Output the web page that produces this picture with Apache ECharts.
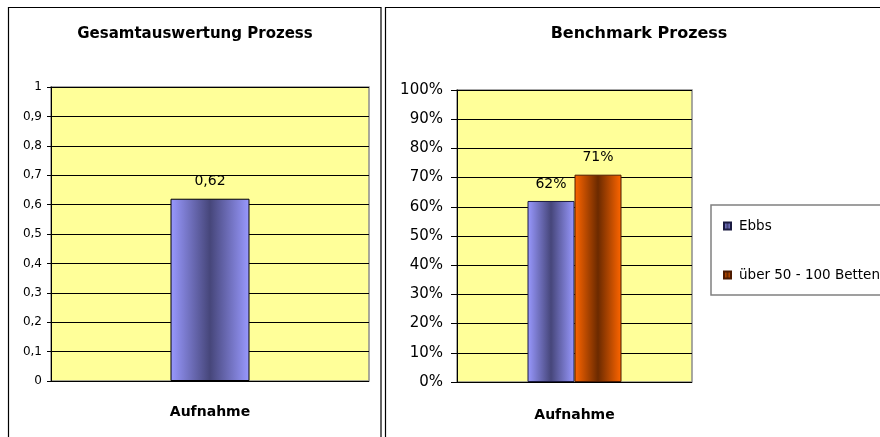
<!DOCTYPE html>
<html>
<head>
<meta charset="utf-8">
<script src="https://cdn.jsdelivr.net/npm/echarts@6/dist/echarts.min.js"></script>
<style>
  html, body { margin: 0; padding: 0; background: #fff; }
  #main { width: 880px; height: 437px; }
</style>
</head>
<body>
<div id="main"></div>
<script>
// Daten aus der Vorlage
const kategorien = ["Aufnahme"];
const gesamtWerte = [0.62];
const ebbsWerte = [0.62];
const benchmarkWerte = [0.71];
const serienNamen = ["Ebbs", "über 50 - 100 Betten"];
const titelLinks = "Gesamtauswertung Prozess";
const titelRechts = "Benchmark Prozess";

const FONT = "DejaVu Sans";

// Excel-artiger Verlauf: hell - dunkel - hell
function verlauf(hell, dunkel) {
  return new echarts.graphic.LinearGradient(0, 0, 1, 0, [
    { offset: 0, color: hell },
    { offset: 0.5, color: dunkel },
    { offset: 1, color: hell },
  ]);
}

let myChart = echarts.init(document.getElementById("main"));
myChart.setOption({
  animation: false,
  textStyle: { fontFamily: FONT, color: "#000" },
  graphic: [
    // Rahmen der beiden Diagramme
    {
      type: "rect",
      shape: { x: 8.5, y: 7.5, width: 372.5, height: 440 },
      style: { fill: "none", stroke: "#000", lineWidth: 1.2 },
    },
    {
      type: "rect",
      shape: { x: 385.5, y: 7.5, width: 600, height: 440 },
      style: { fill: "none", stroke: "#000", lineWidth: 1.2 },
    },
    {
      type: "text",
      x: 195,
      y: 34,
      style: {
        text: titelLinks,
        font: "bold 15px " + FONT,
        fill: "#000",
        align: "center",
        verticalAlign: "middle",
      },
    },
    {
      type: "text",
      x: 639,
      y: 34,
      style: {
        text: titelRechts,
        font: "bold 16px " + FONT,
        fill: "#000",
        align: "center",
        verticalAlign: "middle",
      },
    },
  ],
  legend: {
    data: serienNamen,
    orient: "vertical",
    left: 711,
    top: 205,
    padding: [14, 20, 13, 12],
    itemGap: 35,
    itemWidth: 7,
    itemHeight: 7,
    icon: "rect",
    borderColor: "#808080",
    borderWidth: 1.5,
    textStyle: {
      fontFamily: FONT,
      fontSize: 13.5,
      color: "#000",
      padding: [0, 0, 0, 3],
    },
  },
  grid: [
    {
      left: 51,
      top: 87,
      width: 318,
      height: 294,
      show: true,
      backgroundColor: "#ffff99",
      borderColor: "#8c8c8c",
      borderWidth: 1.5,
    },
    {
      left: 457,
      top: 90,
      width: 235,
      height: 292,
      show: true,
      backgroundColor: "#ffff99",
      borderColor: "#8c8c8c",
      borderWidth: 1.5,
    },
  ],
  xAxis: [
    {
      type: "category",
      gridIndex: 0,
      data: kategorien,
      axisLine: { show: false },
      axisTick: { show: false },
      axisLabel: {
        margin: 24,
        fontFamily: FONT,
        fontSize: 14,
        fontWeight: "bold",
        color: "#000",
      },
    },
    {
      type: "category",
      gridIndex: 1,
      data: kategorien,
      axisLine: { show: false },
      axisTick: { show: false },
      axisLabel: {
        margin: 26,
        fontFamily: FONT,
        fontSize: 14,
        fontWeight: "bold",
        color: "#000",
      },
    },
  ],
  yAxis: [
    {
      type: "value",
      gridIndex: 0,
      min: 0,
      max: 1,
      interval: 0.1,
      axisLine: { show: true, lineStyle: { color: "#000", width: 1 } },
      axisTick: { show: true, length: 4, lineStyle: { color: "#000" } },
      axisLabel: {
        margin: 9,
        fontFamily: FONT,
        fontSize: 12,
        color: "#000",
        formatter: (v) => String(Math.round(v * 10) / 10).replace(".", ","),
      },
      splitLine: { show: true, lineStyle: { color: "#000", width: 1 } },
    },
    {
      type: "value",
      gridIndex: 1,
      min: 0,
      max: 1,
      interval: 0.1,
      axisLine: { show: true, lineStyle: { color: "#000", width: 1 } },
      axisTick: { show: true, length: 6, lineStyle: { color: "#000" } },
      axisLabel: {
        margin: 14,
        fontFamily: FONT,
        fontSize: 15,
        color: "#000",
        formatter: (v) => Math.round(v * 100) + "%",
      },
      splitLine: { show: true, lineStyle: { color: "#000", width: 1 } },
    },
  ],
  series: [
    {
      name: "Gesamtauswertung",
      type: "bar",
      xAxisIndex: 0,
      yAxisIndex: 0,
      barWidth: 79,
      data: gesamtWerte,
      itemStyle: {
        color: verlauf("#9999ff", "#46467a"),
        borderColor: "#000",
        borderWidth: 1,
      },
      label: {
        show: true,
        position: "top",
        distance: 10,
        fontFamily: FONT,
        fontSize: 14,
        color: "#000",
        formatter: (p) => String(p.value).replace(".", ","),
      },
    },
    {
      name: serienNamen[0],
      type: "bar",
      xAxisIndex: 1,
      yAxisIndex: 1,
      barWidth: 47,
      barGap: "0%",
      data: ebbsWerte,
      itemStyle: {
        color: verlauf("#9999ff", "#46467a"),
        borderColor: "#1a1a40",
        borderWidth: 1,
      },
      label: {
        show: true,
        position: "top",
        distance: 10,
        fontFamily: FONT,
        fontSize: 14,
        color: "#000",
        formatter: (p) => Math.round(p.value * 100) + "%",
      },
    },
    {
      name: serienNamen[1],
      type: "bar",
      xAxisIndex: 1,
      yAxisIndex: 1,
      barWidth: 47,
      barGap: "0%",
      data: benchmarkWerte,
      itemStyle: {
        color: verlauf("#ff6600", "#6b2a00"),
        borderColor: "#4d1a00",
        borderWidth: 1,
      },
      label: {
        show: true,
        position: "top",
        distance: 10,
        fontFamily: FONT,
        fontSize: 14,
        color: "#000",
        formatter: (p) => Math.round(p.value * 100) + "%",
      },
    },
  ],
});
</script>
</body>
</html>
